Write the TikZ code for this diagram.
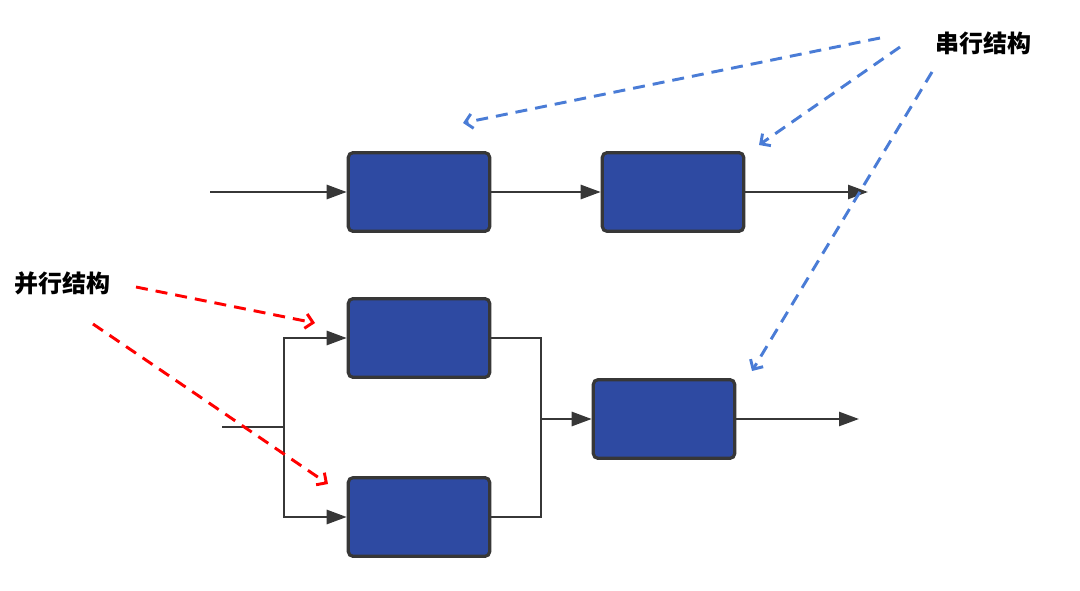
\documentclass[tikz,border=0pt]{standalone}
\usepackage{fontspec}
\usepackage{tikz}
\usetikzlibrary{arrows.meta, positioning}
\newfontfamily\cjk{Noto Sans CJK SC}

\definecolor{boxblue}{RGB}{46,74,162}
\definecolor{boxedge}{RGB}{55,55,55}
\definecolor{hintblue}{RGB}{74,124,214}

\begin{document}
\begin{tikzpicture}[
    x=0.75pt, y=-0.75pt,
    block/.style = {draw=boxedge, fill=boxblue, line width=2.4pt, rounded corners=3.5pt,
                    minimum width=106pt, minimum height=59pt},
    wire/.style  = {draw=boxedge, line width=2pt},
    arrow/.style = {wire, -{Triangle[length=15pt, width=10.5pt]}},
    hint/.style  = {line width=2.2pt, dash pattern=on 9pt off 6pt,
                    -{Straight Barb[length=5.5pt, width=11pt, line width=2.2pt]}},
    tag/.style   = {font=\cjk\bfseries\fontsize{18pt}{21pt}\selectfont}
  ]
  \useasboundingbox (0,0) rectangle (1080,591);

  % Nodes
  \node[block] (b1) at (419,192) {};
  \node[block] (b2) at (673,192) {};
  \node[block] (b3) at (419,338) {};
  \node[block] (b4) at (419,517) {};
  \node[block] (b5) at (664,419) {};

  \coordinate (in1)   at (210,192);
  \coordinate (out1)  at (868,192);
  \coordinate (in2)   at (222,427);
  \coordinate (split) at (284,427);
  \coordinate (join)  at (541,419);
  \coordinate (out2)  at (859,419);

  \node[tag] (serial)   at (983,43)  {串行结构};
  \node[tag] (parallel) at (62,283)  {并行结构};

  % Series
  \draw[arrow] (in1) -- (b1);
  \draw[arrow] (b1) -- (b2);
  \draw[arrow] (b2) -- (out1);

  % Parallel
  \draw[wire]  (in2) -- (split);
  \draw[arrow] (split) |- (b3);
  \draw[arrow] (split) |- (b4);
  \draw[wire]  (b3) -| (join);
  \draw[wire]  (b4) -| (join);
  \draw[arrow] (join) -- (b5);
  \draw[arrow] (b5) -- (out2);

  % Hints
  \coordinate (s1) at (880,38);  \coordinate (e1) at (463,123);
  \coordinate (s2) at (900,47);  \coordinate (e2) at (759,145);
  \coordinate (s3) at (932,72);  \coordinate (e3) at (752,371);
  \draw[hint, hintblue] (s1) -- (e1);
  \draw[hint, hintblue] (s2) -- (e2);
  \draw[hint, hintblue] (s3) -- (e3);

  \coordinate (p1) at (136,287); \coordinate (f1) at (315,323);
  \coordinate (p2) at (93,324);  \coordinate (f2) at (328,484);
  \draw[hint, red] (p1) -- (f1);
  \draw[hint, red] (p2) -- (f2);

\end{tikzpicture}
\end{document}
